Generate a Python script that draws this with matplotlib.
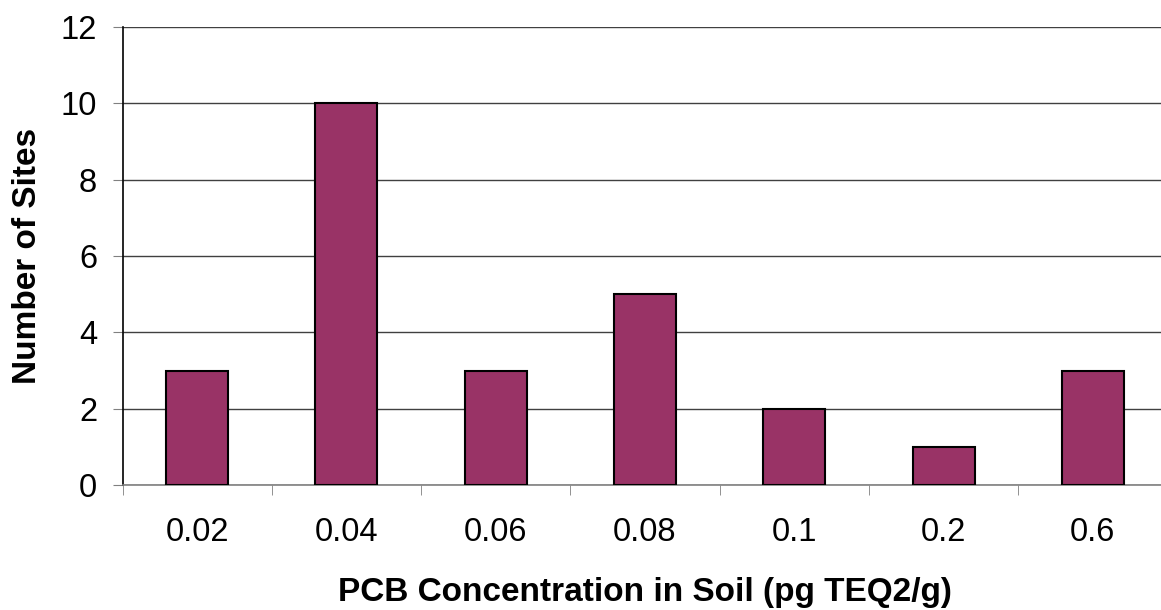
import matplotlib
matplotlib.use("Agg")
import matplotlib.pyplot as plt

categories = ["0.02", "0.04", "0.06", "0.08", "0.1", "0.2", "0.6"]
counts = [3, 10, 3, 5, 2, 1, 3]

plt.rcParams['font.family'] = ['Liberation Sans', 'DejaVu Sans']

fig = plt.figure(figsize=(11.61, 6.10), dpi=100)
ax = fig.add_axes([122.5/1161, 1-485/610, 1045/1161, (485-27)/610])

x = list(range(len(categories)))
ax.bar(x, counts, width=0.415, color="#993366", edgecolor="black", linewidth=1.5, zorder=3)

ax.set_xlim(-0.5, len(categories) - 0.5)
ax.set_ylim(0, 12)
ax.set_yticks(range(0, 13, 2))
ax.yaxis.grid(True, color="#404040", linewidth=1.0, zorder=0)
ax.set_axisbelow(True)

ax.set_xticks(x)
ax.set_xticklabels(categories, fontsize=23.5)
ax.set_xticks([i + 0.5 for i in range(-1, len(categories))], minor=True)
ax.tick_params(axis='x', which='major', length=0, pad=23)
ax.tick_params(axis='x', which='minor', length=7, color="#808080", direction='out')
ax.tick_params(axis='y', labelsize=23.5, length=7.2, color="#808080", direction='out', pad=11)

for s in ["top", "right"]:
    ax.spines[s].set_visible(False)
ax.spines["left"].set_color("black")
ax.spines["bottom"].set_color("#808080")
ax.spines["left"].set_linewidth(1.2)
ax.spines["bottom"].set_linewidth(1.2)

ax.set_xlabel("PCB Concentration in Soil (pg TEQ2/g)", fontsize=24, fontweight="bold", labelpad=21)
ax.set_ylabel("Number of Sites", fontsize=24, fontweight="bold", labelpad=13)

fig.savefig("out.png", dpi=100)
